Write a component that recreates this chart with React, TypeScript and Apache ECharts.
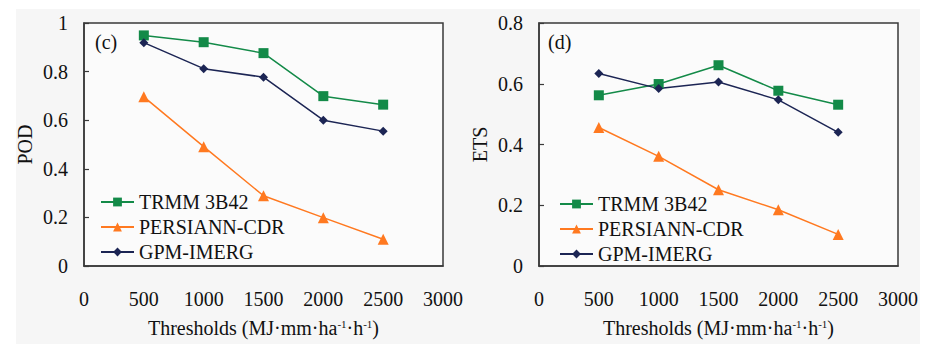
import React, { useEffect, useRef } from "react";
import * as echarts from "echarts";

const thresholds = [500, 1000, 1500, 2000, 2500];
const seriesNames = ["TRMM 3B42", "PERSIANN-CDR", "GPM-IMERG"];
const podTRMM = [0.949, 0.921, 0.876, 0.699, 0.664];
const podPERSIANN = [0.696, 0.491, 0.289, 0.199, 0.11];
const podGPM = [0.919, 0.812, 0.777, 0.6, 0.555];
const etsTRMM = [0.562, 0.599, 0.661, 0.577, 0.531];
const etsPERSIANN = [0.456, 0.361, 0.251, 0.185, 0.104];
const etsGPM = [0.634, 0.584, 0.606, 0.547, 0.44];
const xTicks = { min: 0, max: 3000, interval: 500 };
const podAxis = { min: 0, max: 1, interval: 0.2 };
const etsAxis = { min: 0, max: 0.8, interval: 0.2 };

const colors = ["#138a48", "#ff7920", "#1c2554"];
const symbols = ["rect", "triangle", "diamond"];
const symbolSizes = [10, 11, 9];
const FONT = "Liberation Serif";

export default function App() {
  const ref = useRef<HTMLDivElement>(null);
  useEffect(() => {
    document.body.style.margin = "0";
    const chart = echarts.init(ref.current!, null, { renderer: "svg" });
    const grids = [
      { left: 84, top: 23, width: 359, height: 248 },
      { left: 539, top: 23, width: 359, height: 248 },
    ];
    const axisLine = { show: true, lineStyle: { color: "#3a3a3a", width: 1.5 } };
    const labelStyle = { fontFamily: FONT, fontSize: 20, color: "#111" };
    const xName = "Thresholds (MJ·mm·ha{sup|-1}·h{sup|-1})";
    const nameRich = {
      sup: { fontFamily: FONT, fontSize: 11, color: "#111", verticalAlign: "top", lineHeight: 20, padding: [0, 0, 10, 0] },
    };
    const xAxes = [0, 1].map((i) => ({
      type: "value",
      gridIndex: i,
      ...xTicks,
      axisLine,
      axisTick: { show: false },
      splitLine: { show: false },
      axisLabel: { ...labelStyle, margin: 23, formatter: (v: number) => String(v) },
      name: xName,
      nameLocation: "middle",
      nameGap: 52,
      nameTextStyle: { ...labelStyle, lineHeight: 20, rich: nameRich },
    }));
    const yAxes = [
      { ax: podAxis, name: "POD" },
      { ax: etsAxis, name: "ETS" },
    ].map((d, i) => ({
      type: "value",
      gridIndex: i,
      ...d.ax,
      axisLine,
      axisTick: { show: true, inside: true, length: 5, lineStyle: { color: "#3a3a3a", width: 1.2 } },
      splitLine: { show: false },
      axisLabel: { ...labelStyle, margin: 16, formatter: (v: number) => String(Math.round(v * 10) / 10) },
      name: d.name,
      nameLocation: "middle",
      nameGap: 49,
      nameTextStyle: { ...labelStyle },
    }));
    const panels = [
      [podTRMM, podPERSIANN, podGPM],
      [etsTRMM, etsPERSIANN, etsGPM],
    ];
    const series: any[] = [];
    panels.forEach((arrs, gi) => {
      arrs.forEach((vals, si) => {
        series.push({
          type: "line",
          name: seriesNames[si],
          xAxisIndex: gi,
          yAxisIndex: gi,
          data: thresholds.map((t, k) => [t, vals[k]]),
          symbol: symbols[si],
          symbolSize: symbolSizes[si],
          showSymbol: true,
          lineStyle: { color: colors[si], width: 1.5 },
          itemStyle: { color: colors[si] },
        });
      });
    });
    const legendCommon = {
      orient: "vertical",
      data: seriesNames,
      itemWidth: 33,
      itemHeight: 11,
      itemGap: 5,
      padding: 0,
      textStyle: { ...labelStyle, lineHeight: 18 },
    };
    chart.setOption({
      animation: false,
      backgroundColor: "#ffffff",
      color: colors,
      graphic: [
        { type: "rect", shape: { x: 16, y: 9, width: 904, height: 340 }, style: { fill: "#f6f6f6" }, z: -10, silent: true },
        { type: "text", x: 95, y: 32, style: { text: "(c)", fontFamily: FONT, fontSize: 20, fill: "#111" }, z: 10 },
        { type: "text", x: 548, y: 32, style: { text: "(d)", fontFamily: FONT, fontSize: 20, fill: "#111" }, z: 10 },
      ],
      grid: grids.map((g) => ({
        ...g,
        show: true,
        backgroundColor: "#fbfbfb",
        borderColor: "#3a3a3a",
        borderWidth: 1.5,
      })),
      xAxis: xAxes,
      yAxis: yAxes,
      legend: [
        { ...legendCommon, left: 100, top: 192 },
        { ...legendCommon, left: 559, top: 194 },
      ],
      series,
    });
    return () => chart.dispose();
  }, []);
  return <div ref={ref} style={{ width: 925, height: 344, position: "absolute", left: 0, top: 0 }} />;
}
